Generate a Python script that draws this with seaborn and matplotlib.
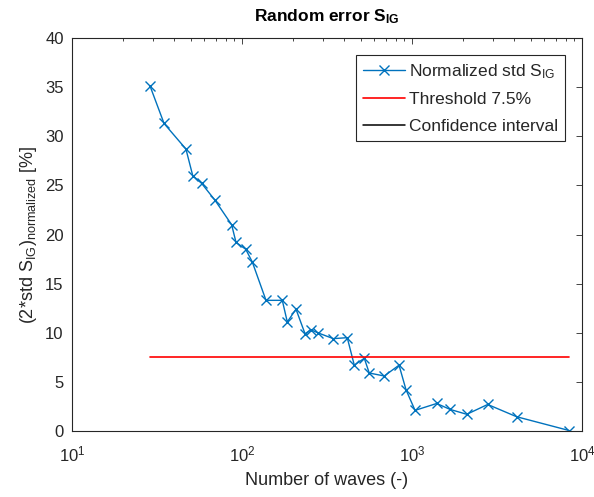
import numpy as np
import pandas as pd
import matplotlib
matplotlib.use("Agg")
import matplotlib.pyplot as plt
import seaborn as sns
from matplotlib.ticker import LogLocator, FixedLocator

# Data
n_waves = [28.8, 34.8, 46.8, 51.3, 57.9, 69.3, 86.9, 92.2, 105.2, 115, 138.4, 172.6,
           184.7, 207.8, 234.8, 254.7, 278.8, 344.5, 416, 457.7, 524, 560.5, 687,
           839, 922, 1042, 1397, 1674, 2099, 2788, 4127, 8395]
std_norm = [35.1, 31.3, 28.7, 26.0, 25.2, 23.5, 21.0, 19.2, 18.5, 17.2, 13.3, 13.3,
            11.1, 12.4, 9.9, 10.3, 10.0, 9.4, 9.5, 6.7, 7.4, 5.9, 5.6,
            6.7, 4.2, 2.1, 2.8, 2.2, 1.7, 2.7, 1.45, 0.05]
threshold_x = [28.8, 8395]
threshold_y = [7.5, 7.5]
conf_x = []
conf_y = []
y_ticks = [0, 5, 10, 15, 20, 25, 30, 35, 40]

sns.set_style("white")
plt.rcParams['font.family'] = ['Liberation Sans', 'DejaVu Sans']
plt.rcParams['mathtext.default'] = 'regular'

fig = plt.figure(figsize=(5.94, 4.97), dpi=100)
ax = fig.add_axes([0.1212, 0.1328, 0.8586, 0.7907])

df = pd.DataFrame({"n": n_waves, "s": std_norm})
sns.lineplot(data=df, x="n", y="s", ax=ax, color="#0072BD", marker="x",
             markersize=6.5, markeredgewidth=1.0, linewidth=1.0,
             markeredgecolor="#0072BD", sort=False,
             label=r"Normalized std S$_{IG}$")
sns.lineplot(x=threshold_x, y=threshold_y, ax=ax, color="#FF0000", linewidth=1.2,
             label="Threshold 7.5%")
ax.plot(conf_x, conf_y, color="black", linewidth=1.1, label="Confidence interval")

ax.set_xscale("log")
ax.set_xlim(10, 10000)
ax.set_ylim(0, 40)
ax.yaxis.set_major_locator(FixedLocator(y_ticks))
ax.xaxis.set_major_locator(LogLocator(base=10, numticks=10))
ax.xaxis.set_minor_locator(LogLocator(base=10, subs=np.arange(2, 10), numticks=20))

gray = "#262626"
for s in ax.spines.values():
    s.set_color(gray)
    s.set_linewidth(0.8)
ax.tick_params(which="both", direction="in", top=True, right=True,
               colors=gray, labelsize=12, width=0.6)
ax.tick_params(which="major", length=4)
ax.tick_params(which="minor", length=2)
ax.tick_params(axis="x", which="major", pad=10)
ax.tick_params(axis="y", which="major", pad=6)

ax.set_xlabel("Number of waves (-)", fontsize=13, color=gray, labelpad=5)
ax.set_ylabel(r"(2*std S$_{IG}$)$_{normalized}$ [%]", fontsize=13, color=gray)
ax.set_title(r"Random error S$_{IG}$", fontsize=12.5, fontweight="bold", color="black", pad=12)

leg = ax.legend(loc="upper right", fontsize=12.5, frameon=True, fancybox=False,
                edgecolor=gray, framealpha=1, borderaxespad=1.0,
                handlelength=2.4, handletextpad=0.2, labelspacing=0.65,
                borderpad=0.4)
leg.get_frame().set_linewidth(0.8)

fig.savefig("out.png", dpi=100)
